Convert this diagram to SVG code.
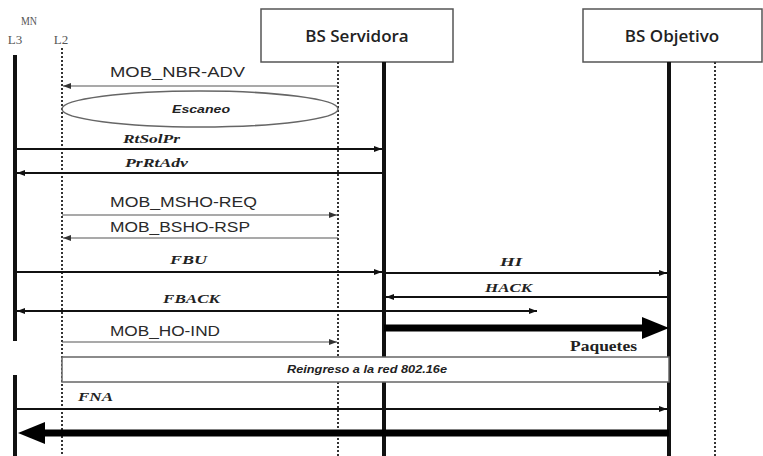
<svg xmlns="http://www.w3.org/2000/svg" width="763" height="456" viewBox="0 0 763 456">
<style>
.life{stroke:#111;stroke-width:4;fill:none}
.dot{stroke:#333;stroke-width:2;stroke-dasharray:2 2;fill:none}
.box{fill:#fff;stroke:#555;stroke-width:1.5}
.bst{font-family:"Open Sans","Liberation Sans",sans-serif;font-size:17px;font-weight:600;fill:#222;text-anchor:middle}
.thin{stroke:#555;stroke-width:1.2;fill:none}
.med{stroke:#111;stroke-width:2.2;fill:none}
.big{stroke:#000;stroke-width:7;fill:none}
.mob{font-family:"Liberation Sans",Arial,sans-serif;font-size:15px;fill:#2a2a2a}
.it{font-family:"Liberation Serif","Times New Roman",serif;font-size:13px;font-weight:bold;font-style:italic;fill:#222}
.pq{font-family:"Liberation Serif","Times New Roman",serif;font-size:14px;font-weight:bold;fill:#222}
.sm{font-family:"Liberation Sans",Arial,sans-serif;font-size:11px;font-weight:bold;font-style:italic;fill:#222}
.lbl{font-family:"Liberation Serif","Times New Roman",serif;font-size:13px;fill:#555}
</style>
<defs>
<marker id="ah" markerUnits="userSpaceOnUse" markerWidth="10" markerHeight="10" refX="9" refY="5" orient="auto"><path d="M1,2 L9,5 L1,8 z" fill="#333"/></marker>
<marker id="ahs" markerUnits="userSpaceOnUse" markerWidth="10" markerHeight="10" refX="9" refY="5" orient="auto-start-reverse"><path d="M1,2 L9,5 L1,8 z" fill="#111"/></marker>
</defs>
<rect width="763" height="456" fill="#fff"/>

<g id="mn">
<text class="lbl" x="29" y="25" text-anchor="middle" textLength="16" lengthAdjust="spacingAndGlyphs">MN</text>
<text class="lbl" x="15" y="44" text-anchor="middle">L3</text>
<text class="lbl" x="61" y="44" text-anchor="middle">L2</text>
<line class="life" x1="15" y1="55" x2="15" y2="341"/>
<line class="life" x1="15" y1="375" x2="15" y2="456"/>
<line class="dot" x1="62" y1="48" x2="62" y2="456"/>
</g>

<g id="bs-servidora">
<rect class="box" x="261" y="9" width="192" height="53"/>
<text class="bst" x="357" y="42">BS Servidora</text>
<line class="dot" x1="338" y1="62" x2="338" y2="456"/>
<line class="life" x1="384" y1="62" x2="384" y2="456"/>
</g>

<g id="bs-objetivo">
<rect class="box" x="583" y="9" width="179" height="53"/>
<text class="bst" x="672" y="42">BS Objetivo</text>
<line class="life" x1="669" y1="62" x2="669" y2="456"/>
<line class="dot" x1="715" y1="62" x2="715" y2="456"/>
</g>

<g id="escaneo">
<ellipse cx="200" cy="109" rx="138" ry="18" fill="none" stroke="#666" stroke-width="1.5"/>
<text class="sm" x="172" y="113" textLength="58" lengthAdjust="spacingAndGlyphs">Escaneo</text>
</g>

<g id="reingreso">
<rect x="62" y="357" width="607" height="25" fill="#fff" stroke="#666" stroke-width="1.5"/>
<text class="sm" x="287" y="373" textLength="160" lengthAdjust="spacingAndGlyphs">Reingreso a la red 802.16e</text>
</g>

<g id="connectors">
<line class="thin" x1="338" y1="86" x2="63" y2="86" marker-end="url(#ah)"/>
<text class="mob" x="110" y="77" textLength="135" lengthAdjust="spacingAndGlyphs">MOB_NBR-ADV</text>

<line class="med" x1="15" y1="149" x2="382" y2="149" marker-end="url(#ahs)"/>
<text class="it" x="123" y="143" textLength="57" lengthAdjust="spacingAndGlyphs">RtSolPr</text>
<line class="med" x1="384" y1="173" x2="17" y2="173" marker-end="url(#ahs)"/>
<text class="it" x="125" y="167" textLength="63" lengthAdjust="spacingAndGlyphs">PrRtAdv</text>

<line class="thin" x1="62" y1="215" x2="337" y2="215" marker-end="url(#ah)"/>
<text class="mob" x="110" y="207" textLength="147" lengthAdjust="spacingAndGlyphs">MOB_MSHO-REQ</text>
<line class="thin" x1="338" y1="238" x2="63" y2="238" marker-end="url(#ah)"/>
<text class="mob" x="110" y="232" textLength="140" lengthAdjust="spacingAndGlyphs">MOB_BSHO-RSP</text>

<line class="med" x1="15" y1="272" x2="382" y2="272" marker-end="url(#ahs)"/>
<text class="it" x="170" y="264" textLength="37" lengthAdjust="spacingAndGlyphs">FBU</text>
<line class="med" x1="384" y1="273" x2="667" y2="273" marker-end="url(#ahs)"/>
<text class="it" x="500" y="266" textLength="22" lengthAdjust="spacingAndGlyphs">HI</text>
<line class="med" x1="669" y1="297" x2="386" y2="297" marker-end="url(#ahs)"/>
<text class="it" x="485" y="292" textLength="47" lengthAdjust="spacingAndGlyphs">HACK</text>

<line class="med" x1="17" y1="311" x2="537" y2="311" marker-start="url(#ahs)" marker-end="url(#ahs)"/>
<text class="it" x="163" y="303" textLength="57" lengthAdjust="spacingAndGlyphs">FBACK</text>

<line class="big" x1="384" y1="328" x2="645" y2="328"/>
<path d="M642,317 L669,328 L642,339 z" fill="#000"/>
<text class="pq" x="570" y="351" textLength="67" lengthAdjust="spacingAndGlyphs">Paquetes</text>

<line class="thin" x1="62" y1="342" x2="337" y2="342" marker-end="url(#ah)"/>
<text class="mob" x="110" y="336" textLength="110" lengthAdjust="spacingAndGlyphs">MOB_HO-IND</text>

<line class="med" x1="15" y1="409" x2="667" y2="409" marker-end="url(#ahs)"/>
<text class="it" x="78" y="401" textLength="35" lengthAdjust="spacingAndGlyphs">FNA</text>

<line class="big" x1="669" y1="433" x2="42" y2="433"/>
<path d="M45,422 L18,433 L45,444 z" fill="#000"/>
</g>
</svg>
